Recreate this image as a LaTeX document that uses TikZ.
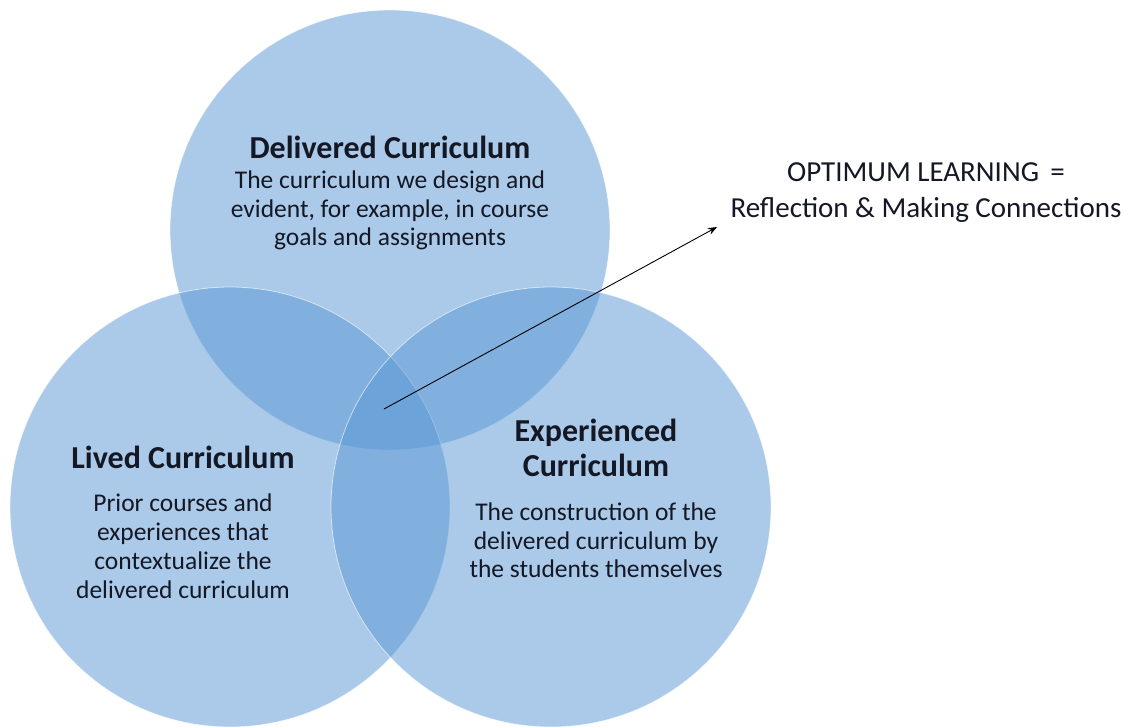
\documentclass[tikz,border=0pt]{standalone}
\usepackage{fontspec}
\setmainfont{Carlito}
\usetikzlibrary{arrows.meta}
\definecolor{vennblue}{RGB}{89,151,213}
\definecolor{inktext}{RGB}{20,24,36}
\begin{document}
\begin{tikzpicture}[x=1pt,y=-1pt,
  venn/.style={circle, minimum size=440pt, inner sep=0pt, fill=vennblue, fill opacity=0.5, draw=white, draw opacity=0.6, line width=0.8pt},
  ttl/.style={font=\fontsize{32}{35}\selectfont\bfseries, text=inktext, align=center, inner sep=0pt},
  body/.style={font=\fontsize{25.5}{28.4}\selectfont, text=inktext, align=center, inner sep=0pt},
  note/.style={font=\fontsize{29}{36}\selectfont, text=inktext, align=center, inner sep=0pt},
  pointer/.style={-{Stealth[length=9pt,width=7pt]}, line width=0.9pt, black}]
\useasboundingbox (0,0) rectangle (1130,726);
\fill[white] (0,0) rectangle (1130,726);
\node[venn] (delivered) at (390,230) {};
\node[venn] (lived) at (230,507) {};
\node[venn] (experienced) at (551,507) {};
\node[ttl, anchor=base] (tdel) at (390,158) {Delivered Curriculum};
\node[body, anchor=north] (bdel) at (390,171) {The curriculum we design and\\evident, for example, in course\\goals and assignments};
\node[ttl, anchor=base] (tliv) at (183,468) {Lived Curriculum};
\node[body, font=\fontsize{25.5}{28.7}\selectfont, anchor=north] (bliv) at (183,494) {Prior courses and\\experiences that\\contextualize the\\delivered curriculum};
\node[ttl, anchor=north] (texp) at (596,419) {Experienced\\Curriculum};
\node[body, anchor=north] (bexp) at (596,503) {The construction of the\\delivered curriculum by\\the students themselves};
\node[note, anchor=north] (opt) at (926,162) {OPTIMUM LEARNING \,=\\Reflection \& Making Connections};
\coordinate (start) at (384,409);
\coordinate (tip) at (717,227);
\draw[pointer] (start) -- (tip);
\end{tikzpicture}
\end{document}
